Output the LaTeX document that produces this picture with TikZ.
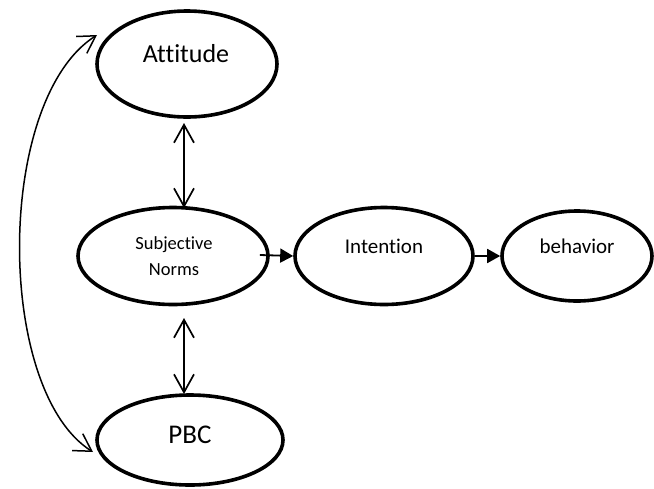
\documentclass[tikz,border=0pt]{standalone}
\usepackage{fontspec}
\setmainfont{Carlito}[Ligatures=NoCommon]
\usetikzlibrary{shapes.geometric,arrows.meta,calc}
\tikzset{
  oval/.style={ellipse, draw, line width=3.6pt, inner sep=0pt},
  lbl/.style={inner sep=0pt, align=center},
  dbl/.style={line width=1.7pt, {Straight Barb[length=18pt,width=20pt,line width=1.7pt]}-{Straight Barb[length=18pt,width=20pt,line width=1.7pt]}},
  curv/.style={line width=1.5pt, {Straight Barb[length=17pt,width=20pt,line width=1.5pt]}-{Straight Barb[length=17pt,width=20pt,line width=1.5pt]}},
  fwd/.style={line width=1.8pt, -{Triangle[length=13pt,width=14pt]}}
}
\begin{document}
\begin{tikzpicture}[x=1pt,y=-1pt]
\useasboundingbox (0,0) rectangle (654,488);
% ellipses
\node[oval, minimum width=180pt, minimum height=106pt] (att) at (187,64) {};
\node[oval, minimum width=190pt, minimum height=97pt] (sn) at (173,256) {};
\node[oval, minimum width=178pt, minimum height=97pt] (int) at (384,256) {};
\node[oval, minimum width=150pt, minimum height=90pt] (beh) at (577,256) {};
\node[oval, minimum width=186pt, minimum height=90pt] (pbc) at (190,440) {};
% labels
\node[lbl, font=\fontsize{26}{30}\selectfont] (tatt) at (186,54) {Attitude};
\node[lbl, font=\fontsize{18.5}{26}\selectfont] (tsn) at (174,256) {Subjective\\Norms};
\node[lbl, font=\fontsize{21}{25}\selectfont] (tint) at (384,246) {Intention};
\node[lbl, font=\fontsize{21}{25}\selectfont] (tbeh) at (577,246) {behavior};
\node[lbl, font=\fontsize{27}{30}\selectfont] (tpbc) at (190,435) {PBC};
% vertical double arrows
\coordinate (u1) at (184,123);
\coordinate (u2) at (184,208);
\coordinate (l1) at (184,318);
\coordinate (l2) at (184,394);
\draw[dbl] (u1) -- (u2);
\draw[dbl] (l1) -- (l2);
% horizontal arrows
\coordinate (s0) at ($(sn.east)+(-10,-1)$);
\draw[fwd] (s0) -- (int.west);
\draw[fwd] (int.east) -- (beh.west);
% left curved arrow
\coordinate (c1) at (97,35);
\coordinate (c2) at (93,452);
\draw[curv] (c1) .. controls (-5,100) and (-5,390) .. (c2);
\end{tikzpicture}
\end{document}
